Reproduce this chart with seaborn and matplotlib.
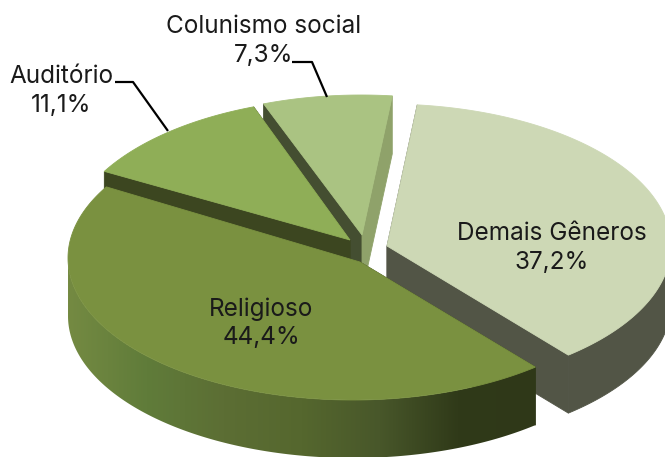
#!/usr/bin/python
# -*- coding: utf-8 -*-

import matplotlib
matplotlib.use('Agg')
import matplotlib.pyplot as plt
from matplotlib.colors import to_rgb
from matplotlib.patches import Polygon
import numpy as np
import seaborn as sns

# Data ---------------------------------------------------------------------------------------------------------------
categories = ['Demais Gêneros', 'Religioso', 'Auditório', 'Colunismo social']
shares = [37.2, 44.4, 11.1, 7.3]

# Look of the pie ----------------------------------------------------------------------------------------------------
start_angle = 6.3
depth = 58
semi_xs = [285, 285, 285, 285]
semi_ys = [142, 142, 147, 147]
centers = [(386, 246), (353, 258), (351, 245), (361, 242)]
tips = [(387, 246), (360, 262), (350, 240), (362, 235)]
top_colors = ['#cdd8b5', '#7a9140', '#8fae57', '#aac382']
rim_colors = [['#525546'],
              ['#748a42', '#607c3a', '#5c6e34', '#55672e', '#48572a', '#303a19', '#2f3818'],
              ['#3c4620'],
              ['#8fa26a']]
start_walls = ['#525546', '#2f3818', '#3c4620', '#444e31']
end_walls = ['#525546', '#3c4620', '#3c4620', '#8fa26a']
draw_order = [0, 3, 2, 1]
label_spots = [(552, 248), (261, 323), (61, 91), (264, 41)]


def quad(ax, xs, ys, color, order):
    ax.fill(xs, ys, facecolor=color, edgecolor=color, linewidth=0.6, zorder=order)


# ====================================================================================================================
if __name__ == '__main__':
    sns.set_theme(style='white')
    plt.rcParams['font.family'] = ['Inter', 'DejaVu Sans']

    fig = plt.figure(figsize=(6.65, 4.57), dpi=100)
    ax = fig.add_axes([0, 0, 1, 1])

    edges = start_angle + np.concatenate([[0], np.cumsum(shares)]) * 3.6

    layer = 1
    for i in draw_order:
        angles = np.linspace(edges[i], edges[i + 1], 200)
        rad = np.radians(angles)
        rim_x = centers[i][0] + semi_xs[i] * np.sin(rad)
        rim_y = centers[i][1] - semi_ys[i] * np.cos(rad)
        tip_x, tip_y = tips[i]

        # walls of the cuts
        quad(ax, [tip_x, rim_x[0], rim_x[0], tip_x], [tip_y, rim_y[0], rim_y[0] + depth, tip_y + depth],
             start_walls[i], layer)
        quad(ax, [tip_x, rim_x[-1], rim_x[-1], tip_x], [tip_y, rim_y[-1], rim_y[-1] + depth, tip_y + depth],
             end_walls[i], layer)

        # outer wall, only the part that faces the viewer
        front = np.cos(rad) <= 0
        if front.any():
            wall_x = np.r_[rim_x[front], rim_x[front][::-1]]
            wall_y = np.r_[rim_y[front], rim_y[front][::-1] + depth]
            if len(rim_colors[i]) > 1:
                shades = np.array([to_rgb(c) for c in sns.blend_palette(rim_colors[i], 256)])[np.newaxis, :, :]
                image = ax.imshow(shades, extent=[wall_x.min(), wall_x.max(), wall_y.max(), wall_y.min()],
                                  aspect='auto', zorder=layer, interpolation='bilinear')
                image.set_clip_path(Polygon(np.c_[wall_x, wall_y], transform=ax.transData))
            else:
                quad(ax, wall_x, wall_y, rim_colors[i][0], layer)

        # top face
        quad(ax, np.r_[tip_x, rim_x], np.r_[tip_y, rim_y], top_colors[i], layer + 1)
        layer += 2

    ax.set_xlim(0, 665)
    ax.set_ylim(457, 0)
    ax.axis('off')

    # Labels -----------------------------------------------------------------------------------------------------------
    for name, share, spot in zip(categories, shares, label_spots):
        value = f'{share:.1f}'.replace('.', ',') + '%'
        ax.text(spot[0], spot[1], name + '\n' + value, ha='center', va='center', fontsize=17.5,
                color='#1a1a1a', linespacing=1.3, zorder=20)

    # Leader lines
    ax.plot([115, 133, 168], [82, 82, 131], color='black', lw=1.6, zorder=20, solid_capstyle='butt')
    ax.plot([292, 312, 327], [62, 62, 97], color='black', lw=1.6, zorder=20, solid_capstyle='butt')

    fig.savefig('out.png', dpi=100, facecolor='white')
